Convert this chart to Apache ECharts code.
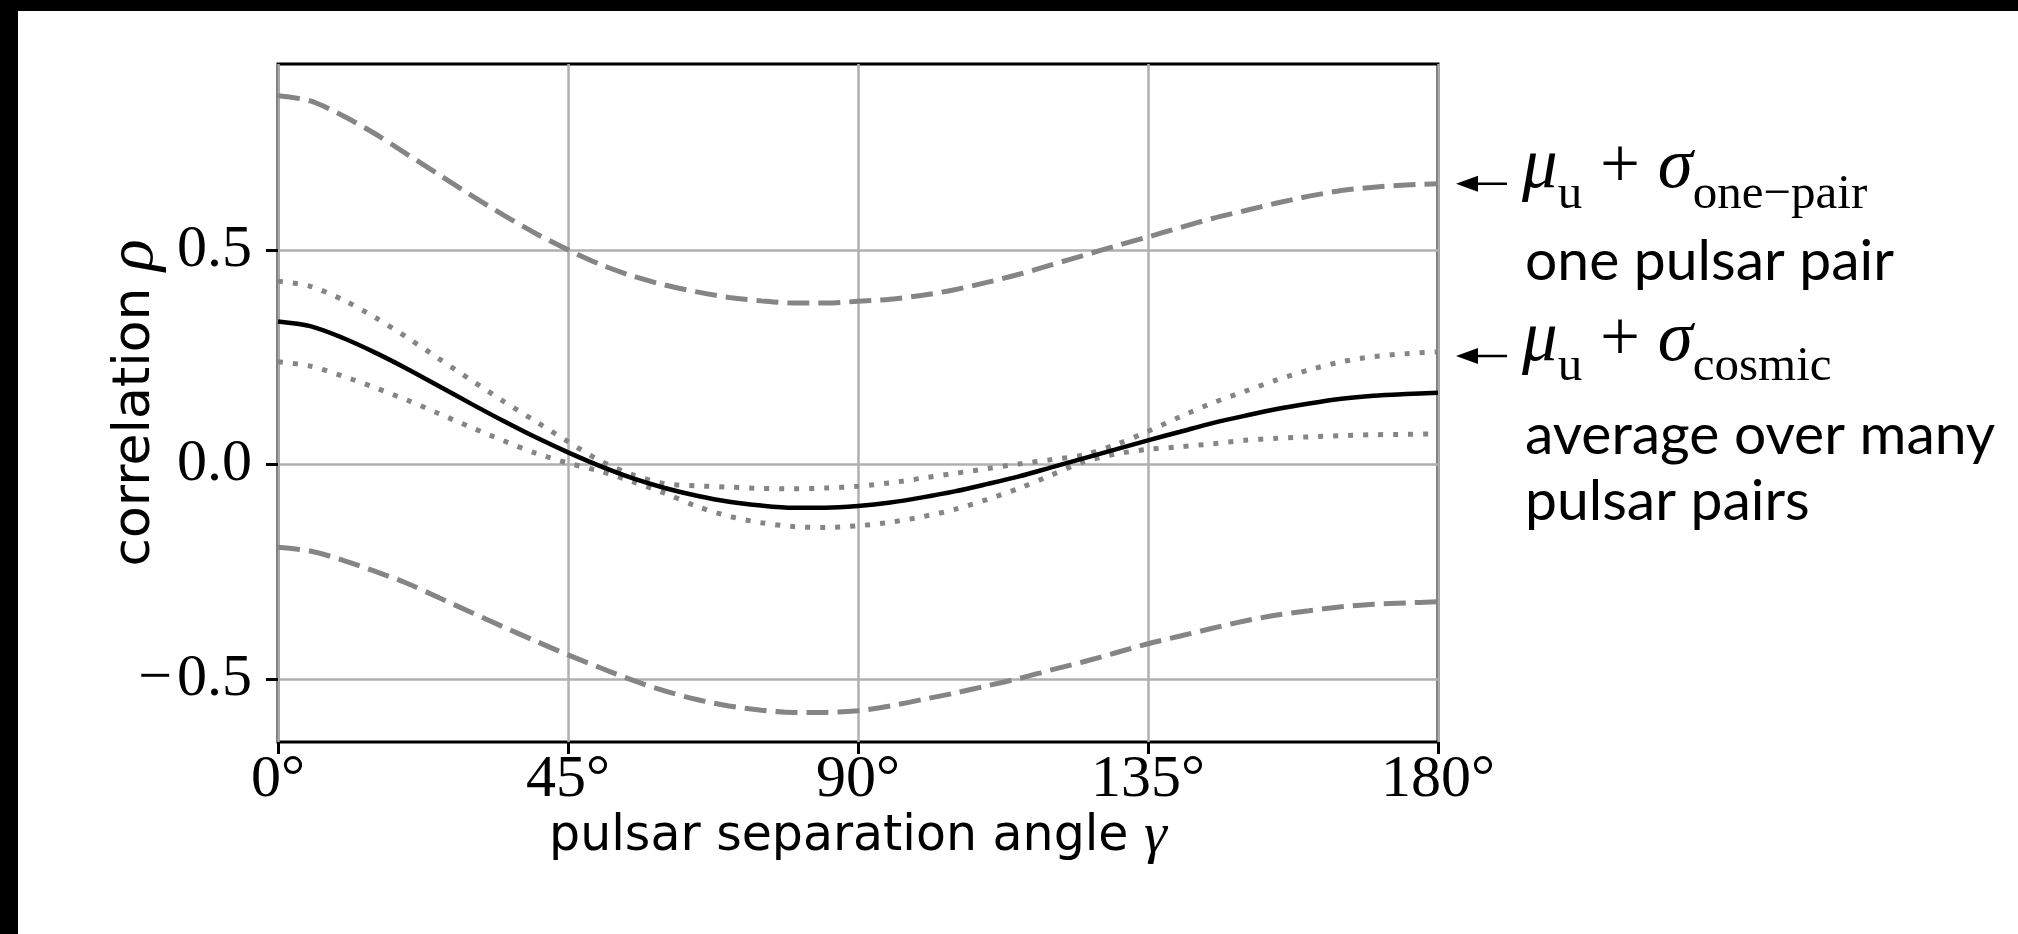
<!DOCTYPE html>
<html>
<head>
<meta charset="utf-8">
<script src="https://cdn.jsdelivr.net/npm/echarts@6/dist/echarts.min.js"></script>
<style>
  html, body { margin: 0; padding: 0; background: #fff; }
  #chart { width: 2018px; height: 934px; }
</style>
</head>
<body>
<div id="chart"></div>
<script>
// pulsar separation angle, degrees
const angleDeg = [0, 5, 10, 15, 20, 25, 30, 35, 40, 45, 50, 55, 60, 65, 70, 75, 80, 85, 90,
  95, 100, 105, 110, 115, 120, 125, 130, 135, 140, 145, 150, 155, 160, 165, 170, 175, 180];

// mean correlation (solid black)
const muMean = [0.333, 0.322, 0.295, 0.261, 0.223, 0.182, 0.141, 0.101, 0.063, 0.028, -0.004,
  -0.032, -0.055, -0.073, -0.087, -0.096, -0.101, -0.101, -0.097, -0.089, -0.077, -0.063, -0.046,
  -0.028, -0.007, 0.014, 0.035, 0.056, 0.076, 0.096, 0.113, 0.129, 0.142, 0.153, 0.160, 0.164, 0.167];

// mu +/- sigma one-pair (dashed)
const onePairUpper = [0.859, 0.847, 0.813, 0.771, 0.723, 0.675, 0.627, 0.581, 0.538, 0.500, 0.466,
  0.439, 0.418, 0.402, 0.389, 0.381, 0.376, 0.376, 0.380, 0.385, 0.394, 0.407, 0.424, 0.443, 0.465,
  0.487, 0.509, 0.530, 0.552, 0.573, 0.591, 0.609, 0.625, 0.638, 0.646, 0.651, 0.654];
const onePairLower = [-0.193, -0.202, -0.223, -0.249, -0.277, -0.311, -0.345, -0.379, -0.412, -0.444,
  -0.474, -0.503, -0.528, -0.548, -0.563, -0.573, -0.578, -0.578, -0.574, -0.563, -0.548, -0.533,
  -0.516, -0.499, -0.479, -0.460, -0.439, -0.418, -0.400, -0.382, -0.365, -0.351, -0.341, -0.332,
  -0.326, -0.323, -0.320];

// mu +/- sigma cosmic (dotted)
const cosmicUpper = [0.427, 0.415, 0.384, 0.343, 0.296, 0.246, 0.196, 0.147, 0.100, 0.053, 0.008,
  -0.024, -0.045, -0.050, -0.053, -0.056, -0.057, -0.055, -0.051, -0.043, -0.032, -0.021, -0.010,
  0.001, 0.011, 0.022, 0.046, 0.077, 0.111, 0.143, 0.170, 0.197, 0.220, 0.239, 0.251, 0.258, 0.262];
const cosmicLower = [0.239, 0.229, 0.206, 0.179, 0.150, 0.118, 0.086, 0.055, 0.026, 0.003, -0.016,
  -0.040, -0.067, -0.098, -0.121, -0.136, -0.145, -0.147, -0.143, -0.135, -0.122, -0.105, -0.082,
  -0.056, -0.025, 0.006, 0.024, 0.035, 0.041, 0.048, 0.056, 0.061, 0.064, 0.067, 0.069, 0.070, 0.071];

const yTicks = [-0.5, 0, 0.5];

const pairs = arr => angleDeg.map((a, i) => [a, arr[i]]);

const GRAY = '#858585';
const SERIF = '"Liberation Serif", serif';

function curve(name, arr, color, width, type, z) {
  return {
    name: name,
    type: 'line',
    data: pairs(arr),
    showSymbol: false,
    smooth: 0.3,
    z: z,
    lineStyle: { color: color, width: width, type: type, cap: 'butt' }
  };
}

const option = {
  animation: false,
  backgroundColor: '#fff',
  grid: {
    left: 278, top: 64, width: 1160, height: 678,
    show: true, borderColor: '#000', borderWidth: 3, backgroundColor: 'transparent'
  },
  xAxis: {
    type: 'value', min: 0, max: 180, interval: 45,
    name: 'pulsar separation angle {g|γ}',
    nameLocation: 'middle', nameGap: 66, nameMoveOverlap: false,
    nameTextStyle: {
      fontFamily: '"DejaVu Sans"', fontSize: 49, color: '#000',
      rich: { g: { fontFamily: SERIF, fontStyle: 'italic', fontSize: 58, color: '#000' } }
    },
    axisLine: { show: false, onZero: false },
    axisTick: { show: true, length: 12, lineStyle: { color: '#000', width: 3 } },
    axisLabel: {
      margin: 8, fontFamily: SERIF, fontSize: 60, color: '#000',
      formatter: v => v + '°'
    },
    splitLine: { show: true, lineStyle: { color: '#b0b0b0', width: 2.5 } }
  },
  yAxis: {
    type: 'value', min: -0.647, max: 0.933,
    name: 'correlation {r|ρ}',
    nameLocation: 'middle', nameGap: 110, nameRotate: 90, nameMoveOverlap: false,
    nameTextStyle: {
      fontFamily: '"DejaVu Sans"', fontSize: 52, color: '#000',
      rich: { r: { fontFamily: SERIF, fontStyle: 'italic', fontSize: 66, color: '#000' } }
    },
    axisLine: { show: false, onZero: false },
    axisTick: { show: true, length: 12, customValues: yTicks, lineStyle: { color: '#000', width: 3 } },
    axisLabel: {
      margin: 26, fontFamily: SERIF, fontSize: 60, color: '#000', customValues: yTicks,
      formatter: v => v === 0 ? '0.0' : (v < 0 ? '−\u200a' : '') + Math.abs(v).toFixed(1)
    },
    splitLine: { show: true, lineStyle: { color: '#b0b0b0', width: 2.5 } }
  },
  series: [
    curve('one-pair upper', onePairUpper, GRAY, 5, [22, 9], 2),
    curve('one-pair lower', onePairLower, GRAY, 5, [22, 9], 2),
    curve('cosmic upper', cosmicUpper, GRAY, 5, [5, 10], 3),
    curve('cosmic lower', cosmicLower, GRAY, 5, [5, 10], 3),
    curve('mean', muMean, '#000', 4.5, 'solid', 4)
  ]
};

const chart = echarts.init(document.getElementById('chart'));
chart.setOption(option);

// annotations on the right, anchored at the curve ends
const last = angleDeg.length - 1;
const pDash = chart.convertToPixel({ gridIndex: 0 }, [180, onePairUpper[last]]);
const pDot = chart.convertToPixel({ gridIndex: 0 }, [180, cosmicUpper[last]]);

const mathRich = {
  m: { fontFamily: SERIF, fontStyle: 'italic', fontSize: 71, lineHeight: 71, padding: [0, 0, 15, 0], verticalAlign: 'bottom', color: '#000' },
  o: { fontFamily: SERIF, fontSize: 71, lineHeight: 71, padding: [0, 0, 15, 0], verticalAlign: 'bottom', color: '#000' },
  s: { fontFamily: SERIF, fontSize: 49, lineHeight: 49, verticalAlign: 'bottom', color: '#000' }
};

function arrowAt(y) {
  return [
    { type: 'line', shape: { x1: 1470, y1: y, x2: 1507, y2: y }, style: { stroke: '#000', lineWidth: 2.5 } },
    { type: 'polygon', shape: { points: [[1456, y], [1478, y - 8], [1478, y + 8]] }, style: { fill: '#000' } }
  ];
}

function mathLabel(sub, y) {
  return {
    type: 'text', x: 1522, y: y,
    style: { text: '{m|μ}{s|u}{o| + }{m|σ}{s|' + sub + '}', rich: mathRich, verticalAlign: 'middle', align: 'left' }
  };
}

function plainLabel(text, y) {
  return {
    type: 'text', x: 1525, y: y,
    style: { text: text, font: '57px Lato', fill: '#000', verticalAlign: 'middle', align: 'left' }
  };
}

const y1 = pDash[1];
const y2 = pDot[1] + 4;

chart.setOption({
  graphic: [
    { type: 'rect', shape: { x: 0, y: 0, width: 18, height: 934 }, style: { fill: '#000' } },
    { type: 'rect', shape: { x: 0, y: 0, width: 2018, height: 11 }, style: { fill: '#000' } },
    ...arrowAt(y1),
    ...arrowAt(y2),
    mathLabel('one−pair', y1),
    plainLabel('one pulsar pair', y1 + 78),
    mathLabel('cosmic', y2),
    plainLabel('average over many', y2 + 80),
    plainLabel('pulsar pairs', y2 + 146)
  ]
});
</script>
</body>
</html>
